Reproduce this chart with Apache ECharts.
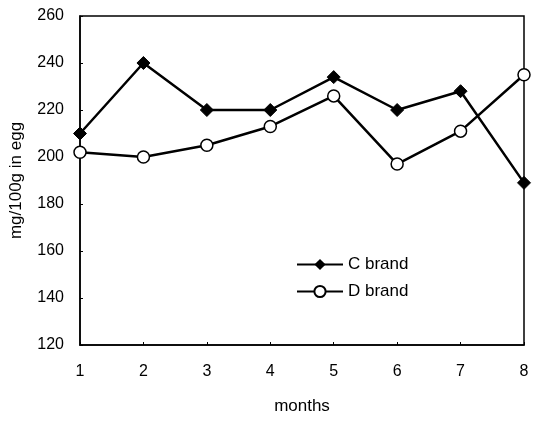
<!DOCTYPE html>
<html>
<head>
<meta charset="utf-8">
<script src="https://cdn.jsdelivr.net/npm/echarts@6/dist/echarts.min.js"></script>
<style>
  html, body { margin: 0; padding: 0; background: #fff; }
  #chart { width: 534px; height: 421px; }
</style>
</head>
<body>
<div id="chart"></div>
<script>
// months on x axis
const months = ["1", "2", "3", "4", "5", "6", "7", "8"];
// mg/100g in egg
const cBrand = [210, 240, 220, 220, 234, 220, 228, 189];
const dBrand = [202, 200, 205, 213, 226, 197, 211, 235];

const font = "Liberation Sans, Arial, sans-serif";

let myChart = echarts.init(document.getElementById("chart"));
let option = {
  animation: false,
  textStyle: { fontFamily: font, color: "#000" },
  grid: {
    left: 79,
    right: 10,
    top: 16,
    bottom: 76,
    show: true,
    borderColor: "#000",
    borderWidth: 1.5
  },
  legend: {
    orient: "vertical",
    left: 291,
    top: 251,
    itemWidth: 46,
    itemHeight: 14,
    itemGap: 10,
    textStyle: { fontSize: 17, color: "#000", fontFamily: font },
    data: ["C brand", "D brand"]
  },
  xAxis: {
    type: "category",
    boundaryGap: false,
    data: months,
    name: "months",
    nameLocation: "middle",
    nameGap: 53,
    nameTextStyle: { fontSize: 17, color: "#000" },
    axisLine: { lineStyle: { color: "#000", width: 1.5 } },
    axisTick: { inside: true, length: 3, lineStyle: { color: "#000" } },
    axisLabel: { fontSize: 16, color: "#000", margin: 19 },
    splitLine: { show: false }
  },
  yAxis: {
    type: "value",
    min: 120,
    max: 260,
    interval: 20,
    name: "mg/100g in egg",
    nameLocation: "middle",
    nameGap: 55,
    nameTextStyle: { fontSize: 17, color: "#000" },
    axisLine: { show: true, lineStyle: { color: "#000", width: 1.5 } },
    axisTick: { show: true, inside: true, length: 3, lineStyle: { color: "#000" } },
    axisLabel: { fontSize: 16, color: "#000", margin: 16 },
    splitLine: { show: false }
  },
  series: [
    {
      name: "C brand",
      type: "line",
      data: cBrand,
      symbol: "diamond",
      symbolSize: 13,
      lineStyle: { color: "#000", width: 2.5 },
      itemStyle: { color: "#000", borderColor: "#000" },
      z: 3
    },
    {
      name: "D brand",
      type: "line",
      data: dBrand,
      symbol: "circle",
      symbolSize: 12,
      showAllSymbol: true,
      lineStyle: { color: "#000", width: 2.5 },
      itemStyle: { color: "#fff", borderColor: "#000", borderWidth: 1.5 },
      z: 2
    }
  ]
};
myChart.setOption(option);
</script>
</body>
</html>
